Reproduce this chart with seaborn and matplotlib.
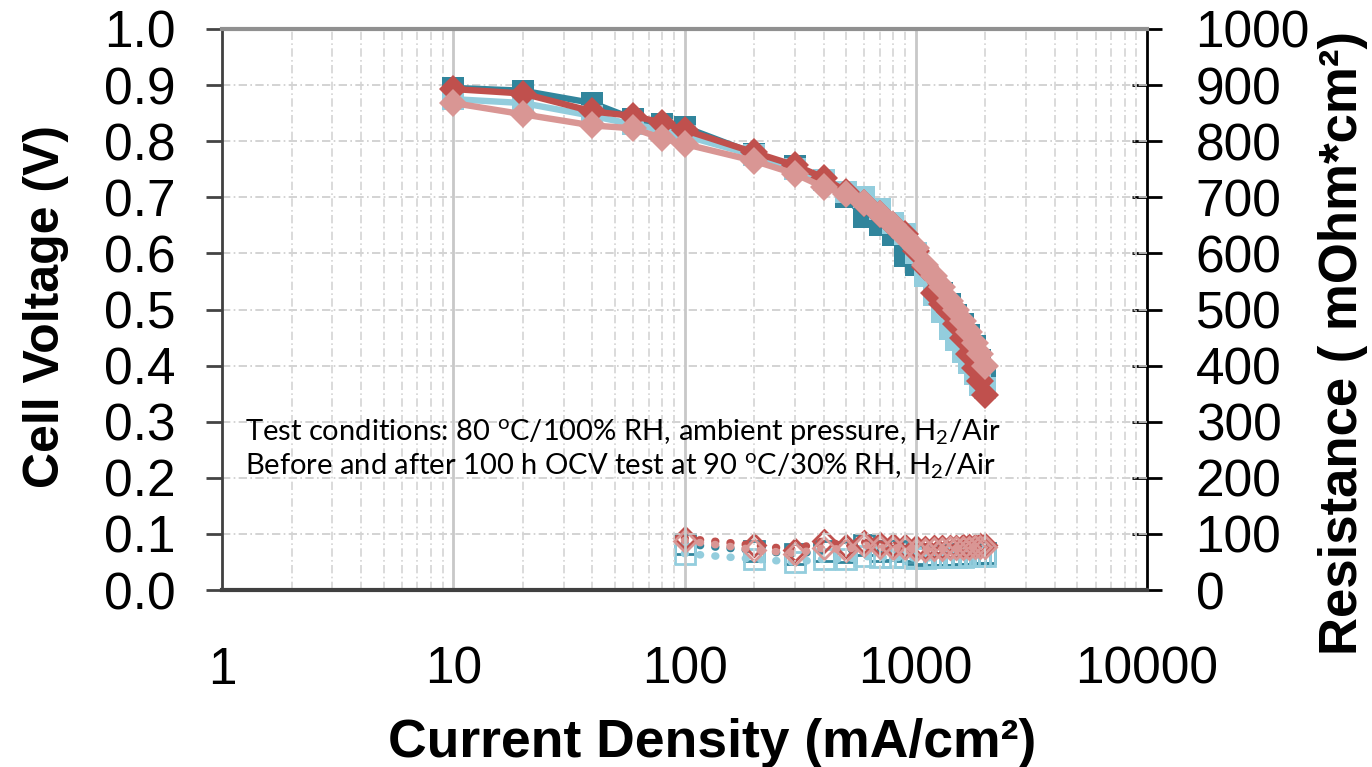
import numpy as np
import pandas as pd
import matplotlib
matplotlib.use("Agg")
import matplotlib.pyplot as plt
import seaborn as sns
from matplotlib.ticker import FixedLocator, NullFormatter

# ---------------- data ----------------
current = [10, 20, 40, 60, 80, 100, 200, 300, 400, 500, 600, 700, 800, 900,
           1000, 1100, 1200, 1300, 1400, 1500, 1600, 1700, 1800, 1900, 2000]
v_before_dark = [0.895, 0.89, 0.868, 0.84, 0.83, 0.825, 0.778, 0.755, 0.73, 0.70,
                 0.665, 0.65, 0.633, 0.595, 0.58, 0.56, 0.545, 0.53, 0.51, 0.49,
                 0.475, 0.455, 0.435, 0.41, 0.385]
v_after_light = [0.875, 0.868, 0.845, 0.83, 0.82, 0.81, 0.775, 0.75, 0.73, 0.71,
                 0.70, 0.68, 0.655, 0.635, 0.60, 0.56, 0.525, 0.495, 0.465, 0.445,
                 0.425, 0.405, 0.385, 0.365, 0.36]
v_before_red = [0.893, 0.885, 0.853, 0.845, 0.833, 0.82, 0.78, 0.757, 0.735, 0.71,
                0.69, 0.67, 0.65, 0.635, 0.605, 0.575, 0.53, 0.51, 0.495, 0.475,
                0.45, 0.42, 0.395, 0.372, 0.348]
v_after_pink = [0.868, 0.848, 0.828, 0.823, 0.805, 0.795, 0.765, 0.742, 0.718, 0.705,
                0.69, 0.67, 0.65, 0.63, 0.61, 0.58, 0.56, 0.54, 0.515, 0.50,
                0.48, 0.46, 0.44, 0.42, 0.40]

res_current = [100, 200, 300, 400, 500, 600, 700, 800, 900, 1000, 1100, 1200,
               1300, 1400, 1500, 1600, 1700, 1800, 1900, 2000]
r_dark = [82, 70, 64, 70, 68, 80, 70, 72, 70, 65, 62, 62, 62, 62, 63, 64, 64, 65, 66, 66]
r_light = [65, 55, 50, 55, 55, 60, 58, 58, 58, 57, 57, 58, 58, 58, 59, 59, 60, 60, 60, 60]
r_red = [92, 80, 72, 88, 78, 85, 82, 80, 78, 76, 75, 76, 76, 77, 77, 78, 78, 79, 80, 80]
r_pink = [88, 72, 65, 75, 72, 80, 76, 75, 74, 72, 72, 73, 73, 74, 74, 75, 75, 76, 76, 76]

x_ticks = [1, 10, 100, 1000, 10000]
x_tick_labels = ["1", "10", "100", "1000", "10000"]
annotation_lines = [r"Test conditions: 80 $^{\rm o}$C/100% RH, ambient pressure, H$_2$/Air",
                    r"Before and after 100 h OCV test at 90 $^{\rm o}$C/30% RH, H$_2$/Air"]

# ---------------- style ----------------
sns.set_style("white")
plt.rcParams["font.family"] = ["Liberation Sans", "DejaVu Sans"]
plt.rcParams["text.color"] = "black"
plt.rcParams["axes.labelcolor"] = "black"
plt.rcParams["mathtext.fontset"] = "custom"
plt.rcParams["mathtext.rm"] = "Lato"
plt.rcParams["mathtext.it"] = "Lato:italic"

C_DARK = "#31859C"
C_LIGHT = "#93CDDD"
C_RED = "#C0504D"
C_PINK = "#D99694"

fig = plt.figure(figsize=(13.72, 7.67), dpi=100)
ax = fig.add_axes([222/1372, 1-590/767, (1147-222)/1372, (590-29)/767])
ax2 = ax.twinx()

ax.set_xscale("log")
ax.set_xlim(1, 10000)
ax.set_ylim(0, 1.0)
ax2.set_ylim(0, 1000)
ax.set_yticks(np.arange(0, 1.01, 0.1))
ax.set_yticklabels([f"{v:.1f}" for v in np.arange(0, 1.01, 0.1)])
ax2.set_yticks(np.arange(0, 1001, 100))
ax2.set_yticklabels([str(v) for v in range(0, 1001, 100)])
ax.xaxis.set_major_locator(FixedLocator(x_ticks))
ax.set_xticklabels(x_tick_labels)
minors = [m * d for d in [1, 10, 100, 1000] for m in range(2, 10)]
ax.xaxis.set_minor_locator(FixedLocator(minors))
ax.xaxis.set_minor_formatter(NullFormatter())

ax.grid(False)
ax2.grid(False)
for yv in np.arange(0.1, 1.0, 0.1):
    ax.axhline(yv, color="#cccccc", lw=1.2, ls=(0, (5, 2, 1, 2)), zorder=0)
for xv in minors:
    ax.axvline(xv, color="#d4d4d4", lw=1.2, ls=(0, (5, 2, 1, 2)), zorder=0)
for xv in [10, 100, 1000]:
    ax.axvline(xv, color="#c8c8c8", lw=2, zorder=0)

ax.tick_params(axis="x", which="major", direction="out", length=11, width=1.5,
               pad=29, labelsize=37, colors="black")
ax.tick_params(axis="x", which="minor", length=0)
ax.tick_params(axis="y", direction="out", length=11.5, width=2, labelsize=37,
               pad=22, colors="#444444", labelcolor="black")
ax2.tick_params(axis="y", direction="inout", length=22, width=2, labelsize=37,
                pad=24, colors="black")

ax.spines["top"].set_color("#909090"); ax.spines["top"].set_linewidth(3)
ax.spines["bottom"].set_color("#404040"); ax.spines["bottom"].set_linewidth(3)
ax.spines["left"].set_color("#404040"); ax.spines["left"].set_linewidth(2)
ax.spines["right"].set_visible(False)
ax2.spines["right"].set_color("black"); ax2.spines["right"].set_linewidth(2)
for s in ["top", "bottom", "left"]:
    ax2.spines[s].set_visible(False)

# resistance (right axis)
res_series = [(r_dark, C_DARK, "s", 14), (r_light, C_LIGHT, "s", 14),
              (r_red, C_RED, "D", 11), (r_pink, C_PINK, "D", 11)]
for vals, col, mk, ms in res_series:
    df = pd.DataFrame({"x": res_current, "y": vals})
    sns.lineplot(data=df, x="x", y="y", ax=ax2, color=col, lw=5.5,
                 linestyle=(0, (0.1, 1.9)), dash_capstyle="round",
                 marker=mk, markersize=ms, markerfacecolor="none",
                 markeredgecolor=col, markeredgewidth=2, sort=False,
                 estimator=None, legend=False, zorder=2)

# polarization curves (left axis) drawn above
ax.set_zorder(ax2.get_zorder() + 1)
ax.patch.set_visible(False)
volt_series = [(v_before_dark, C_DARK, "s", 16.5), (v_after_light, C_LIGHT, "s", 16.5),
               (v_before_red, C_RED, "D", 14), (v_after_pink, C_PINK, "D", 14)]
for vals, col, mk, ms in volt_series:
    df = pd.DataFrame({"x": current, "y": vals})
    sns.lineplot(data=df, x="x", y="y", ax=ax, color=col, lw=4.6,
                 marker=mk, markersize=ms, markeredgewidth=0,
                 sort=False, estimator=None, legend=False, zorder=3)

ax.set_xlabel("Current Density (mA/cm²)", fontsize=38.5, fontweight="bold", labelpad=17)
ax.xaxis.label.set_x(0.53)
ax.set_ylabel("Cell Voltage (V)", fontsize=36, fontweight="bold", labelpad=25)
ax2.set_ylabel("Resistance ( mOhm*cm²)", fontsize=38, fontweight="bold", labelpad=6)
ax.yaxis.label.set_y(0.505)
ax2.yaxis.label.set_y(0.44)

for i, line in enumerate(annotation_lines):
    ax.text(0.025, 0.282 - i * 0.062, line, transform=ax.transAxes, fontsize=21,
            family=["Lato", "DejaVu Sans"], va="center", ha="left", zorder=5)

fig.savefig("out.png", dpi=100)
